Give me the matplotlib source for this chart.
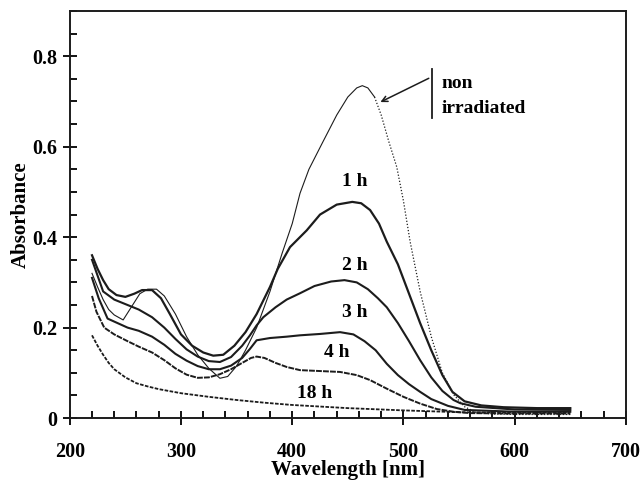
import matplotlib.pyplot as plt
from matplotlib.ticker import MultipleLocator

# --- data (wavelength in nm, absorbance) ---
wl_non = [220, 225, 230, 235, 240, 248, 263, 270, 278, 285, 295, 305, 315, 325,
          335, 342, 350, 358, 368, 380, 391, 400, 407, 415, 427, 440, 450, 458,
          463, 468, 474]
abs_non = [0.32, 0.29, 0.262, 0.24, 0.228, 0.217, 0.275, 0.285, 0.285, 0.27,
           0.23, 0.18, 0.14, 0.11, 0.088, 0.092, 0.115, 0.15, 0.2, 0.28, 0.365,
           0.43, 0.497, 0.55, 0.608, 0.67, 0.71, 0.73, 0.735, 0.73, 0.71]
wl_non_tail = [474, 480, 487, 494, 500, 506, 515, 525, 535, 545, 555, 565, 580,
               600, 650]
abs_non_tail = [0.71, 0.67, 0.61, 0.555, 0.48, 0.39, 0.28, 0.18, 0.1, 0.052,
                0.025, 0.013, 0.009, 0.008, 0.008]

wl_1h = [220, 225, 230, 235, 242, 250, 258, 265, 274, 282, 290, 300, 310, 320,
         329, 338, 348, 358, 368, 380, 387, 398, 413, 425, 440, 454, 462, 470,
         478, 485, 495, 505, 515, 525, 535, 544, 555, 570, 590, 620, 650]
abs_1h = [0.36, 0.33, 0.305, 0.285, 0.272, 0.268, 0.275, 0.283, 0.283, 0.265,
          0.23, 0.185, 0.16, 0.145, 0.138, 0.14, 0.16, 0.19, 0.23, 0.29, 0.33,
          0.378, 0.415, 0.45, 0.472, 0.478, 0.475, 0.46, 0.43, 0.39, 0.34,
          0.275, 0.21, 0.15, 0.095, 0.058, 0.037, 0.028, 0.024, 0.022, 0.022]

wl_2h = [220, 230, 240, 252, 262, 274, 285, 295, 305, 315, 325, 335, 345, 355,
         362, 368, 374, 385, 395, 407, 420, 435, 447, 458, 468, 477, 485, 495,
         505, 515, 525, 535, 545, 551, 565, 600, 650]
abs_2h = [0.35, 0.28, 0.262, 0.25, 0.24, 0.223, 0.2, 0.175, 0.152, 0.136,
          0.126, 0.124, 0.135, 0.16, 0.183, 0.205, 0.223, 0.245, 0.262, 0.276,
          0.292, 0.302, 0.305, 0.3, 0.285, 0.265, 0.245, 0.21, 0.17, 0.128,
          0.09, 0.06, 0.04, 0.033, 0.025, 0.019, 0.018]

wl_3h = [220, 226, 234, 243, 252, 262, 274, 285, 295, 305, 315, 325, 335, 345,
         355, 362, 368, 380, 395, 407, 425, 443, 455, 465, 475, 485, 495, 505,
         515, 525, 540, 555, 600, 650]
abs_3h = [0.31, 0.265, 0.22, 0.21, 0.2, 0.193, 0.18, 0.162, 0.142, 0.127,
          0.115, 0.108, 0.108, 0.116, 0.133, 0.153, 0.172, 0.177, 0.18, 0.183,
          0.186, 0.19, 0.185, 0.17, 0.15, 0.12, 0.095, 0.075, 0.058, 0.042,
          0.027, 0.018, 0.014, 0.014]

wl_4h = [220, 224, 231, 240, 252, 262, 274, 285, 295, 305, 315, 325, 335, 345,
         355, 363, 368, 375, 385, 395, 407, 425, 443, 458, 470, 485, 500, 515,
         530, 545, 560, 600, 650]
abs_4h = [0.27, 0.235, 0.2, 0.185, 0.17, 0.158, 0.145, 0.128, 0.11, 0.096,
          0.089, 0.09, 0.097, 0.108, 0.122, 0.133, 0.136, 0.133, 0.122, 0.113,
          0.106, 0.104, 0.102, 0.095, 0.084, 0.065, 0.047, 0.032, 0.02, 0.014,
          0.011, 0.01, 0.01]

wl_18h = [220, 225, 230, 235, 240, 250, 260, 270, 280, 300, 325, 350, 375, 400,
          450, 500, 550, 600, 650]
abs_18h = [0.183, 0.16, 0.14, 0.122, 0.108, 0.09, 0.077, 0.07, 0.064, 0.055,
           0.047, 0.04, 0.034, 0.029, 0.022, 0.017, 0.013, 0.012, 0.012]

# label text and anchor (nm, absorbance)
curve_labels = ["1 h", "2 h", "3 h", "4 h", "18 h"]
label_x = [456, 456, 456, 440, 420]
label_y = [0.524, 0.338, 0.234, 0.144, 0.055]

plt.rcParams["font.family"] = ["Liberation Serif", "DejaVu Serif"]
plt.rcParams["font.weight"] = "bold"

fig = plt.figure(figsize=(6.4, 4.8), dpi=100)
ax = fig.add_axes([0.109, 0.129, 0.869, 0.848])

ink = "#1c1c1c"
ax.plot(wl_non, abs_non, color=ink, lw=0.8)
ax.plot(wl_non_tail, abs_non_tail, color=ink, lw=0.9, ls=(0, (1, 1.5)))
ax.plot(wl_1h, abs_1h, color=ink, lw=1.6)
ax.plot(wl_2h, abs_2h, color=ink, lw=1.5)
ax.plot(wl_3h, abs_3h, color=ink, lw=1.5)
ax.plot(wl_4h, abs_4h, color=ink, lw=1.4, ls=(0, (3, 0.6)))
ax.plot(wl_18h, abs_18h, color=ink, lw=1.3, ls=(0, (2, 0.8)))

for txt, x, y in zip(curve_labels, label_x, label_y):
    ax.text(x, y, txt, ha="center", va="center", fontsize=14, fontweight="bold")

# "non irradiated" callout
ax.plot([525.5, 525.5], [0.663, 0.771], color=ink, lw=1.3)
ax.annotate("", xy=(477, 0.696), xytext=(525, 0.754),
            arrowprops=dict(arrowstyle="->", color=ink, lw=1.1))
ax.text(534, 0.740, "non", ha="left", va="center", fontsize=14,
        fontweight="bold")
ax.text(534, 0.685, "irradiated", ha="left", va="center", fontsize=14,
        fontweight="bold")

ax.set_xlim(200, 700)
ax.set_ylim(0, 0.9)
ax.xaxis.set_major_locator(MultipleLocator(100))
ax.xaxis.set_minor_locator(MultipleLocator(20))
ax.yaxis.set_major_locator(MultipleLocator(0.2))
ax.yaxis.set_minor_locator(MultipleLocator(0.05))
ax.set_yticks([0, 0.2, 0.4, 0.6, 0.8])
ax.set_yticklabels(["0", "0.2", "0.4", "0.6", "0.8"])
ax.tick_params(which="major", direction="inout", length=10, width=1.3,
               labelsize=14.5, pad=4)
ax.tick_params(axis="x", which="major", pad=12)
ax.tick_params(which="minor", direction="in", length=5, width=1.3)
ax.tick_params(top=False, right=False)
for lbl in ax.get_xticklabels() + ax.get_yticklabels():
    lbl.set_fontweight("bold")
for sp in ax.spines.values():
    sp.set_linewidth(1.4)
    sp.set_color(ink)

ax.set_xlabel("Wavelength [nm]", fontsize=15, fontweight="bold", labelpad=-1)
ax.set_ylabel("Absorbance", fontsize=15, fontweight="bold", labelpad=1)

fig.savefig("out.png", dpi=100)
